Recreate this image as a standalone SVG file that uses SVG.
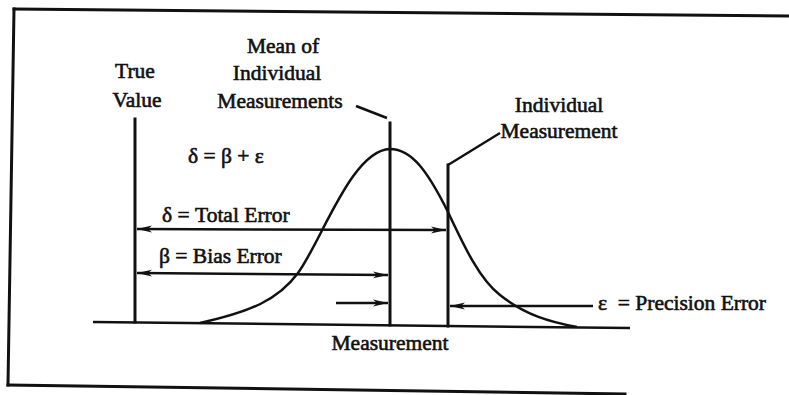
<svg xmlns="http://www.w3.org/2000/svg" width="789" height="395" viewBox="0 0 789 395">
<style>
  .t { font-family: "Liberation Serif", "Times New Roman", serif; font-size: 21.5px; fill: #111; stroke: #111; stroke-width: 0.6; }
  .c { text-anchor: middle; }
  .ln { stroke: #111; stroke-width: 3; fill: none; stroke-linecap: square; }
  .th { stroke: #111; stroke-width: 2.5; fill: none; }
  .ar { stroke: #111; stroke-width: 2.5; fill: none; marker-end: url(#ah); }
  .ar2 { stroke: #111; stroke-width: 2.5; fill: none; marker-start: url(#ahs); marker-end: url(#ah); }
</style>
<defs>
  <marker id="ah" viewBox="0 0 16 10" refX="15" refY="5" markerWidth="16" markerHeight="10" markerUnits="userSpaceOnUse" orient="auto">
    <path d="M0,1.5 L15,5 L0,8.5 L4,5 Z" fill="#111"/>
  </marker>
  <marker id="ahs" viewBox="0 0 16 10" refX="1" refY="5" markerWidth="16" markerHeight="10" markerUnits="userSpaceOnUse" orient="auto">
    <path d="M16,1.5 L1,5 L16,8.5 L12,5 Z" fill="#111"/>
  </marker>
</defs>
<rect width="789" height="395" fill="#fff"/>
<g id="frame">
  <path class="ln" d="M14,9 L789,16"/>
  <path class="ln" d="M14,9 L8,385"/>
  <path class="ln" d="M8,385 L625,394"/>
</g>
<g id="axis">
  <path class="th" d="M93,322 L630,328"/>
  <text class="t c" x="390" y="350">Measurement</text>
</g>
<g id="distribution">
  <path class="th" d="M200,323 C250,312 278,300 298,273 C322,240 352,150 390,149 C412,149 428,172 448,212 C465,248 480,280 500,295 C525,315 550,322 577,327"/>
</g>
<g id="true-value">
  <path class="ln" d="M135,119 L135,322"/>
  <text class="t c" x="135" y="78">True</text>
  <text class="t c" x="137" y="107">Value</text>
</g>
<g id="mean">
  <path class="ln" d="M390,123 L390,325"/>
  <text class="t c" x="283" y="53">Mean of</text>
  <text class="t c" x="277" y="80">Individual</text>
  <text class="t c" x="280" y="108">Measurements</text>
</g>
<g id="individual">
  <path class="ln" d="M448,165 L448,326"/>
  <text class="t c" x="559" y="112">Individual</text>
  <text class="t c" x="559" y="138">Measurement</text>
</g>
<g id="equations">
  <text class="t" x="188" y="163">δ = β + ε</text>
  <text class="t" x="162" y="222">δ = Total Error</text>
  <text class="t" x="159" y="263">β = Bias Error</text>
  <text class="t" x="598" y="310" xml:space="preserve">ε  = Precision Error</text>
</g>
<g id="connectors">
  <path class="th" d="M356,106 L387,118"/>
  <path class="th" d="M448,165 L500,133"/>
  <path class="ar2" d="M137,229 L446,230"/>
  <path class="ar2" d="M137,273 L388,275"/>
  <path class="ar" d="M336,303 L388,303"/>
  <path class="ar" d="M593,306 L450,306"/>
</g>
</svg>
